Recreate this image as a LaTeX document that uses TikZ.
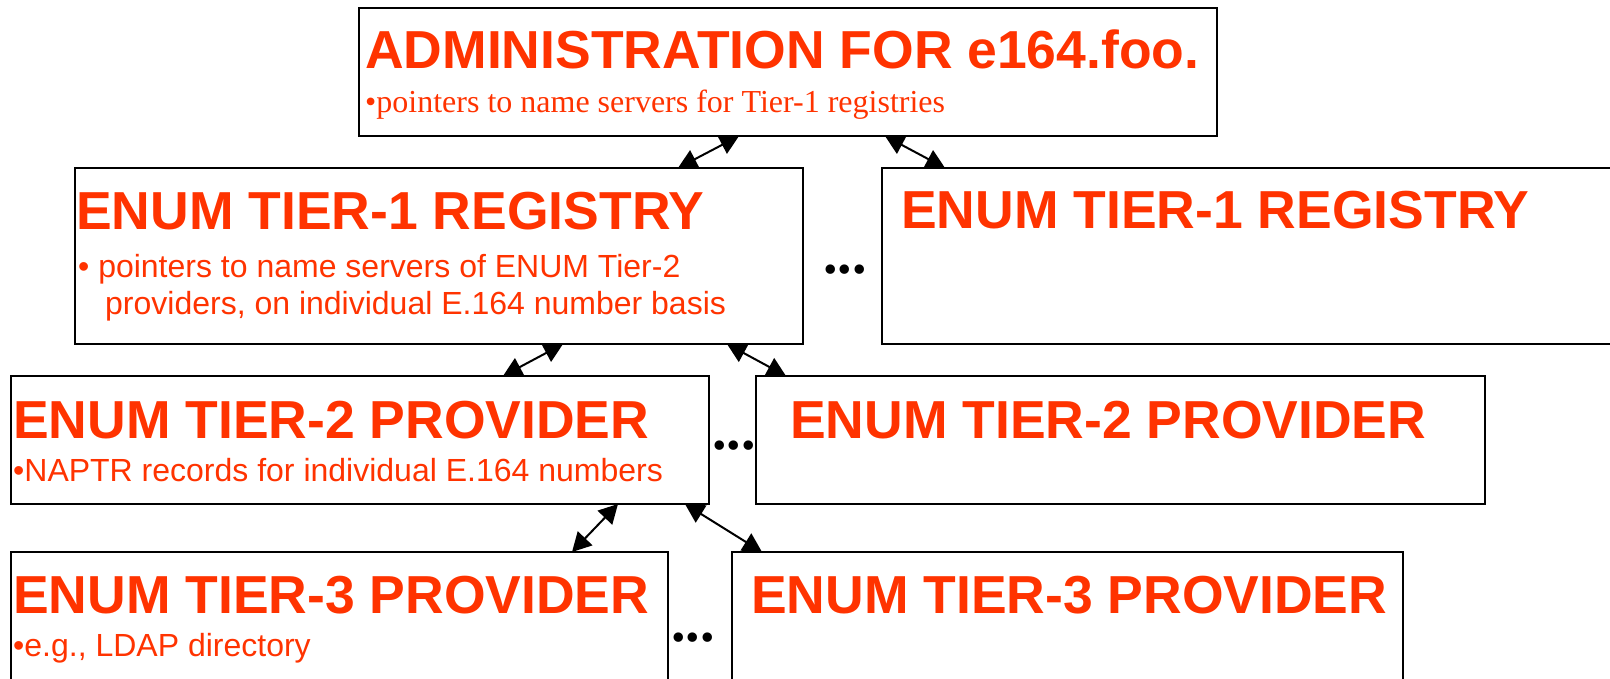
\documentclass[tikz,border=0pt]{standalone}
\usepackage{fontspec}
\setmainfont{Liberation Sans}
\newfontfamily\sansf{Liberation Sans}
\newfontfamily\seriff{Liberation Serif}
\usetikzlibrary{arrows.meta,calc}
\definecolor{enumred}{RGB}{255,51,0}
\tikzset{
  box/.style={draw=black, line width=2pt, fill=white, rectangle, inner sep=0pt, outer sep=0pt, anchor=north west},
  ttl/.style={anchor=base west, inner sep=0pt, text=enumred, font=\sansf\bfseries\fontsize{53.5}{60}\selectfont},
  subs/.style={anchor=base west, inner sep=0pt, text=enumred, font=\sansf\fontsize{32}{39}\selectfont},
  subserif/.style={anchor=base west, inner sep=0pt, text=enumred, font=\seriff\fontsize{32}{39}\selectfont},
  dots/.style={anchor=base, inner sep=0pt, text=black, font=\seriff\bfseries\fontsize{58}{60}\selectfont},
  dbl/.style={{Triangle[length=19pt,width=20pt]}-{Triangle[length=19pt,width=20pt]}, line width=2pt, black}
}
\begin{document}
\begin{tikzpicture}[x=1pt,y=-1pt]
\useasboundingbox (0,0) rectangle (1610,679);
\clip (0,0) rectangle (1610,679);
% boxes
\node[box, minimum width=858pt, minimum height=128pt] (admin) at (359,8) {};
\node[box, minimum width=728pt, minimum height=176pt] (reg1) at (75,168) {};
\node[box, minimum width=743pt, minimum height=176pt] (reg1b) at (882,168) {};
\node[box, minimum width=698pt, minimum height=128pt] (prov2a) at (11,376) {};
\node[box, minimum width=729pt, minimum height=128pt] (prov2b) at (756,376) {};
\node[box, minimum width=657pt, minimum height=150pt] (prov3a) at (11,552) {};
\node[box, minimum width=671pt, minimum height=150pt] (prov3b) at (732,552) {};
% texts
\node[ttl] (admint) at (365,69) {ADMINISTRATION FOR e164.foo.};
\node[subserif] (admins) at (365,113) {•pointers to name servers for Tier-1 registries};
\node[ttl] (reg1t) at (76,230) {ENUM TIER-1 REGISTRY};
\node[subs] (reg1s) at (78,277) {• pointers to name servers of ENUM Tier-2};
\node[subs] (reg1s2) at (105,315) {providers, on individual E.164 number basis};
\node[ttl] (reg1bt) at (901,229) {ENUM TIER-1 REGISTRY};
\node[ttl] (prov2at) at (13,438) {ENUM TIER-2 PROVIDER};
\node[subs] (prov2as) at (13,481) {•NAPTR records for individual E.164 numbers};
\node[ttl] (prov2bt) at (790,438) {ENUM TIER-2 PROVIDER};
\node[ttl] (prov3at) at (13,613) {ENUM TIER-3 PROVIDER};
\node[subs] (prov3as) at (13,656) {•e.g., LDAP directory};
\node[ttl] (prov3bt) at (751,613) {ENUM TIER-3 PROVIDER};
% dots
\node[dots] (d1) at (845,273) {...};
\node[dots] (d2) at (734,449) {...};
\node[dots] (d3) at (693,641) {...};
% connectors
\draw[dbl] (739,0 |- admin.south) -- (678,0 |- reg1.north);
\draw[dbl] (885,0 |- admin.south) -- (945,0 |- reg1b.north);
\draw[dbl] (563,0 |- reg1.south) -- (503,0 |- prov2a.north);
\draw[dbl] (727,0 |- reg1.south) -- (786,0 |- prov2b.north);
\draw[dbl] (618,0 |- prov2a.south) -- (572,0 |- prov3a.north);
\draw[dbl] (685,0 |- prov2a.south) -- (762,0 |- prov3b.north);
\end{tikzpicture}
\end{document}
